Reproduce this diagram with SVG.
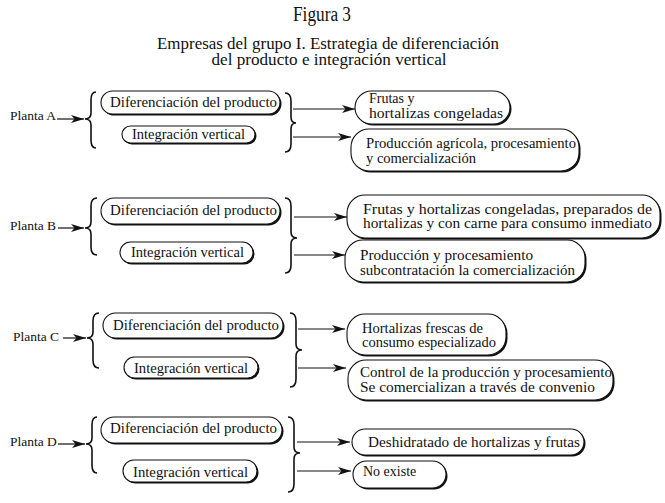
<svg xmlns="http://www.w3.org/2000/svg" width="665" height="503" viewBox="0 0 665 503">
<style>
text{font-family:"Liberation Serif","Times New Roman",serif;fill:#111}
.t1{font-size:20px}
.t2{font-size:16px}
.lb{font-size:13.5px}
.pl{font-size:15px}
.rs{font-size:14px}
.pill{fill:#fff;stroke:#111;stroke-width:1.1}
.sh{fill:#111}
.br{fill:none;stroke:#111;stroke-width:1.6}
.ar{stroke:#111;stroke-width:1.2;fill:none;marker-end:url(#ah)}
</style>
<defs>
<marker id="ah" markerUnits="userSpaceOnUse" markerWidth="14" markerHeight="10" refX="13" refY="4" orient="auto">
<path d="M0,0 L13,4 L0,8 L3.5,4 z" fill="#111"/>
</marker>
</defs>
<rect width="665" height="503" fill="#fff"/>
<g id="title">
<text class="t1" x="322" y="21" text-anchor="middle" textLength="58" lengthAdjust="spacingAndGlyphs">Figura 3</text>
<text class="t2" x="328" y="49" text-anchor="middle" textLength="342" lengthAdjust="spacingAndGlyphs">Empresas del grupo I. Estrategia de diferenciación</text>
<text class="t2" x="329" y="65" text-anchor="middle" textLength="235" lengthAdjust="spacingAndGlyphs">del producto e integración vertical</text>
</g>
<g id="connectors">
<line class="ar" x1="57" y1="119" x2="84" y2="119"/>
<line class="ar" x1="58" y1="228" x2="84" y2="228"/>
<line class="ar" x1="63" y1="338" x2="86" y2="338"/>
<line class="ar" x1="58" y1="444" x2="85" y2="444"/>
<line class="ar" x1="293" y1="109" x2="355" y2="109"/>
<line class="ar" x1="293" y1="137" x2="351" y2="137"/>
<line class="ar" x1="294" y1="217" x2="347" y2="217"/>
<line class="ar" x1="294" y1="255" x2="345" y2="255"/>
<line class="ar" x1="298" y1="329" x2="345" y2="329"/>
<line class="ar" x1="298" y1="368" x2="346" y2="368"/>
<line class="ar" x1="297" y1="442" x2="350" y2="442"/>
<line class="ar" x1="297" y1="471" x2="351" y2="471"/>
</g>
<g id="braces">
<path class="br" d="M96,92 Q91,92 91,100 L91,113 Q91,119 85,119 Q91,119 91,125 L91,140 Q91,148 96,148"/>
<path class="br" d="M285,93 Q291,93 291,101 L291,117 Q291,123 296,123 Q291,123 291,129 L291,144 Q291,152 285,152"/>
<path class="br" d="M97,198 Q91,198 91,206 L91,222 Q91,228 85,228 Q91,228 91,234 L91,247 Q91,255 97,255"/>
<path class="br" d="M285,198 Q291,198 291,206 L291,232 Q291,238 297,238 Q291,238 291,244 L291,265 Q291,273 285,273"/>
<path class="br" d="M99,313 Q93,313 93,321 L93,332 Q93,338 87,338 Q93,338 93,344 L93,360 Q93,368 99,368"/>
<path class="br" d="M290,313 Q296,313 296,321 L296,344 Q296,350 302,350 Q296,350 296,356 L296,379 Q296,387 290,387"/>
<path class="br" d="M97,417 Q92,417 92,425 L92,438 Q92,444 86,444 Q92,444 92,450 L92,465 Q92,473 97,473"/>
<path class="br" d="M288,417 Q294,417 294,425 L294,447 Q294,453 300,453 Q294,453 294,459 L294,484 Q294,492 288,492"/>
</g>
<g id="plantaA">
<text class="lb" x="10" y="120">Planta A</text>
</g>
<g id="plantaB">
<text class="lb" x="10" y="230">Planta B</text>
</g>
<g id="plantaC">
<text class="lb" x="13" y="341">Planta C</text>
</g>
<g id="plantaD">
<text class="lb" x="10" y="446">Planta D</text>
</g>
<g id="a-dif">
<rect class="sh" x="102.5" y="92.5" width="179" height="23" rx="11.5"/>
<rect class="pill" x="101" y="91" width="179" height="23" rx="11.5"/>
<text class="pl" x="110" y="107" textLength="167" lengthAdjust="spacingAndGlyphs">Diferenciación del producto</text>
</g>
<g id="a-int">
<rect class="sh" x="123.5" y="127.5" width="133" height="17" rx="8.5"/>
<rect class="pill" x="122" y="126" width="133" height="17" rx="8.5"/>
<text class="pl" x="132" y="139" textLength="113" lengthAdjust="spacingAndGlyphs">Integración vertical</text>
</g>
<g id="a-r1">
<rect class="sh" x="356.5" y="92.5" width="155" height="33" rx="16.5"/>
<rect class="pill" x="355" y="91" width="155" height="33" rx="16.5"/>
<text class="rs" x="369" y="103">Frutas y</text>
<text class="rs" x="369" y="118" textLength="134" lengthAdjust="spacingAndGlyphs">hortalizas congeladas</text>
</g>
<g id="a-r2">
<rect class="sh" x="352.5" y="130.5" width="228" height="42" rx="18"/>
<rect class="pill" x="351" y="129" width="228" height="42" rx="18"/>
<text class="rs" x="366" y="148" textLength="210" lengthAdjust="spacingAndGlyphs">Producción agrícola, procesamiento</text>
<text class="rs" x="366" y="163" textLength="110" lengthAdjust="spacingAndGlyphs">y comercialización</text>
</g>
<g id="b-dif">
<rect class="sh" x="102.5" y="199.5" width="179" height="26" rx="13"/>
<rect class="pill" x="101" y="198" width="179" height="26" rx="13"/>
<text class="pl" x="110" y="215" textLength="167" lengthAdjust="spacingAndGlyphs">Diferenciación del producto</text>
</g>
<g id="b-int">
<rect class="sh" x="121.5" y="243.5" width="133" height="21" rx="10.5"/>
<rect class="pill" x="120" y="242" width="133" height="21" rx="10.5"/>
<text class="pl" x="131" y="257" textLength="113" lengthAdjust="spacingAndGlyphs">Integración vertical</text>
</g>
<g id="b-r1">
<rect class="sh" x="348.5" y="196.5" width="313" height="43" rx="18"/>
<rect class="pill" x="347" y="195" width="313" height="43" rx="18"/>
<text class="rs" x="363" y="214" textLength="289" lengthAdjust="spacingAndGlyphs">Frutas y hortalizas congeladas, preparados de</text>
<text class="rs" x="363" y="228" textLength="289" lengthAdjust="spacingAndGlyphs">hortalizas y con carne para consumo inmediato</text>
</g>
<g id="b-r2">
<rect class="sh" x="346.5" y="241.5" width="240" height="42" rx="18"/>
<rect class="pill" x="345" y="240" width="240" height="42" rx="18"/>
<text class="rs" x="360" y="260" textLength="173" lengthAdjust="spacingAndGlyphs">Producción y procesamiento</text>
<text class="rs" x="360" y="275" textLength="215" lengthAdjust="spacingAndGlyphs">subcontratación la comercialización</text>
</g>
<g id="c-dif">
<rect class="sh" x="104.5" y="314.5" width="180" height="25" rx="12.5"/>
<rect class="pill" x="103" y="313" width="180" height="25" rx="12.5"/>
<text class="pl" x="113" y="330" textLength="166" lengthAdjust="spacingAndGlyphs">Diferenciación del producto</text>
</g>
<g id="c-int">
<rect class="sh" x="125.5" y="358.5" width="134" height="21" rx="10.5"/>
<rect class="pill" x="124" y="357" width="134" height="21" rx="10.5"/>
<text class="pl" x="134" y="373" textLength="114" lengthAdjust="spacingAndGlyphs">Integración vertical</text>
</g>
<g id="c-r1">
<rect class="sh" x="348.5" y="315.5" width="159" height="41" rx="18"/>
<rect class="pill" x="347" y="314" width="159" height="41" rx="18"/>
<text class="rs" x="362" y="333" textLength="121" lengthAdjust="spacingAndGlyphs">Hortalizas frescas de</text>
<text class="rs" x="362" y="347" textLength="134" lengthAdjust="spacingAndGlyphs">consumo especializado</text>
</g>
<g id="c-r2">
<rect class="sh" x="349.5" y="361.5" width="265" height="40" rx="18"/>
<rect class="pill" x="348" y="360" width="265" height="40" rx="18"/>
<text class="rs" x="360" y="377" textLength="252" lengthAdjust="spacingAndGlyphs">Control de la producción y procesamiento</text>
<text class="rs" x="360" y="392" textLength="235" lengthAdjust="spacingAndGlyphs">Se comercializan a través de convenio</text>
</g>
<g id="d-dif">
<rect class="sh" x="102.5" y="418.5" width="181" height="26" rx="13"/>
<rect class="pill" x="101" y="417" width="181" height="26" rx="13"/>
<text class="pl" x="110" y="433" textLength="167" lengthAdjust="spacingAndGlyphs">Diferenciación del producto</text>
</g>
<g id="d-int">
<rect class="sh" x="124.5" y="461.5" width="134" height="22" rx="11"/>
<rect class="pill" x="123" y="460" width="134" height="22" rx="11"/>
<text class="pl" x="133" y="477" textLength="115" lengthAdjust="spacingAndGlyphs">Integración vertical</text>
</g>
<g id="d-r1">
<rect class="sh" x="353.5" y="430.5" width="232" height="26" rx="13"/>
<rect class="pill" x="352" y="429" width="232" height="26" rx="13"/>
<text class="rs" x="368" y="447" textLength="212" lengthAdjust="spacingAndGlyphs">Deshidratado de hortalizas y frutas</text>
</g>
<g id="d-r2">
<rect class="sh" x="354.5" y="462.5" width="93" height="27" rx="13.5"/>
<rect class="pill" x="353" y="461" width="93" height="27" rx="13.5"/>
<text class="rs" x="363" y="476">No existe</text>
</g>
</svg>
